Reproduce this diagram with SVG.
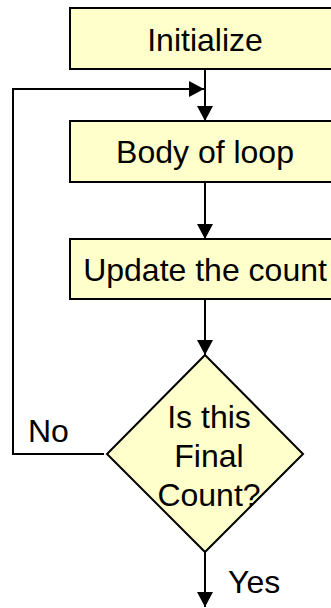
<svg xmlns="http://www.w3.org/2000/svg" width="331" height="608" viewBox="0 0 331 608">
<style>
.box{fill:#FFFFCC;stroke:#000;stroke-width:2}
.t{font-family:"Liberation Sans",Arial,sans-serif;font-size:32px;fill:#000}
.c{text-anchor:middle}
.ln{fill:none;stroke:#000;stroke-width:2}
</style>
<defs>
<marker id="ah" markerUnits="userSpaceOnUse" markerWidth="16" markerHeight="16" viewBox="0 0 16 16" refX="15" refY="8" orient="auto">
<path d="M0,0 L15,8 L0,16 Z" fill="#000"/>
</marker>
</defs>
<g id="init"><rect class="box" x="70" y="8" width="272" height="61"/><text class="t c" x="205" y="51">Initialize</text></g>
<g id="body"><rect class="box" x="70" y="121" width="272" height="61"/><text class="t c" x="205" y="163">Body of loop</text></g>
<g id="update"><rect class="box" x="70" y="239" width="272" height="60"/><text class="t c" x="205" y="281">Update the count</text></g>
<g id="decision"><path class="box" d="M205,355 L303,454 L205,552 L107,454 Z"/>
<text class="t c" x="209" y="428">Is this</text><text class="t c" x="209" y="467">Final</text><text class="t c" x="209" y="506">Count?</text></g>
<g id="connectors">
<line class="ln" x1="205" y1="69" x2="205" y2="121" marker-end="url(#ah)"/>
<line class="ln" x1="205" y1="182" x2="205" y2="239" marker-end="url(#ah)"/>
<line class="ln" x1="205" y1="299" x2="205" y2="355" marker-end="url(#ah)"/>
<line class="ln" x1="205" y1="552" x2="205" y2="607" marker-end="url(#ah)"/>
<path class="ln" d="M104,454 H13 V89 H204" marker-end="url(#ah)"/>
</g>
<g id="labels"><text class="t" x="28" y="442">No</text><text class="t" x="228" y="593">Yes</text></g>
</svg>
